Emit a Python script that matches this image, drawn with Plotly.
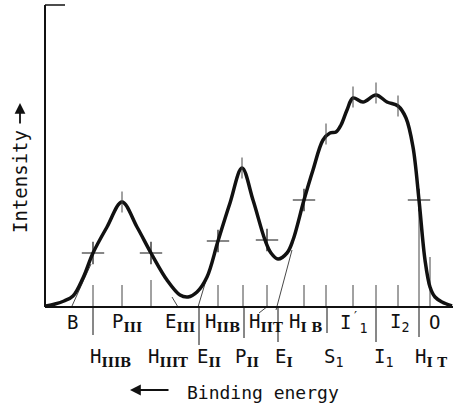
import plotly.graph_objects as go

# Spectrum profile (position along the energy axis, intensity)
curve_x = [1, 10, 19, 28, 38, 48, 62, 77, 92, 106, 122, 135, 143, 152, 162, 173, 185,
           197, 208, 220, 226, 233, 242, 248, 259, 268, 278, 285, 291, 296, 302, 308,
           318, 331, 342, 353, 361, 368, 374, 380, 385, 390, 397, 407]
curve_y = [1, 3, 6, 11, 29, 54, 80, 105, 80, 54, 27, 12, 10, 15, 30, 66, 104,
           139, 107, 67, 54, 48, 54, 67, 107, 137, 167, 174, 175, 182, 197, 209,
           205, 212, 205, 201, 189, 160, 107, 47, 20, 10, 5, 1]

# Half-height points marked with crosses
cross_x = [48, 106, 173, 222, 259, 374]
cross_y = [54, 54, 66, 67, 107, 107]

# Peak / shoulder markers
peak_x = [77, 197, 281, 308, 331, 353]
peak_y = [105, 139, 173, 210, 214, 201]

# Short ticks rising from the baseline (x, top)
tick_x = [48, 77, 106, 173, 198, 222, 259, 281, 308, 331, 353, 374, 385]
tick_top = [22, 22, 27, 22, 22, 22, 22, 22, 22, 22, 22, 107, 50]

# Separators hanging below the baseline (x, depth)
sep_x = [48, 154, 199, 233, 282, 331, 374]
sep_bottom = [-28, -38, -31, -35, -26, -35, -30]

# Tangent construction lines (x0, y0, x1, y1)
tangents = [(27, 1, 46, 43), (127, 10, 133, 0), (153, 0, 162, 30),
            (231, -3, 247, 57), (214, -6, 223, 1)]


def sub(s):
    """Roman-numeral style subscript in bold serif."""
    return ("<sub><span style='font-family:DejaVu Serif'><b>" + s + "</b></span></sub>")


def subs(s):
    return "<sub>" + s + "</sub>"


# Region labels
top_labels = ["B", "P" + sub("III"), "E" + sub("III"), "H" + sub("IIB"), "H" + sub("IIT"),
              "H" + sub("I B"), "I<sup>′</sup>" + subs("1"), "I" + subs("2"), "O"]
top_label_x = [20, 65, 118, 158, 202, 242, 293, 343, 382]
bottom_labels = ["H" + sub("IIIB"), "H" + sub("IIIT"), "E" + sub("II"), "P" + sub("II"),
                 "E" + sub("I"), "S" + subs("1"), "I" + subs("1"), "H" + sub("I T")]
bottom_label_x = [43, 101, 150, 188, 228, 277, 327, 368]

FONT = "DejaVu Sans Mono"
BLACK = "#111111"

fig = go.Figure()

# thin construction lines
tx, ty = [], []
for x0, y0, x1, y1 in tangents:
    tx += [x0, x1, None]
    ty += [y0, y1, None]
fig.add_trace(go.Scatter(x=tx, y=ty, mode="lines", line=dict(color="#333333", width=0.9),
                         hoverinfo="skip"))

# baseline ticks
bx, by = [], []
for x, top in zip(tick_x, tick_top):
    bx += [x, x, None]
    by += [0, top, None]
fig.add_trace(go.Scatter(x=bx, y=by, mode="lines", line=dict(color="#444444", width=1),
                         hoverinfo="skip"))

# separators below baseline
sx, sy = [], []
for x, bot in zip(sep_x, sep_bottom):
    sx += [x, x, None]
    sy += [0, bot, None]
fig.add_trace(go.Scatter(x=sx, y=sy, mode="lines", line=dict(color=BLACK, width=1),
                         hoverinfo="skip"))

# main spectrum
fig.add_trace(go.Scatter(x=curve_x, y=curve_y, mode="lines",
                         line=dict(color=BLACK, width=3.5, shape="spline", smoothing=1.0),
                         hoverinfo="skip"))

# crosses
fig.add_trace(go.Scatter(x=cross_x, y=cross_y, mode="markers",
                         marker=dict(symbol="cross-thin", size=16,
                                     line=dict(color=BLACK, width=1.2)),
                         hoverinfo="skip"))

# peak ticks
fig.add_trace(go.Scatter(x=peak_x, y=peak_y, mode="markers",
                         marker=dict(symbol="line-ns", size=15,
                                     line=dict(color="#444444", width=1)),
                         hoverinfo="skip"))

# axes drawn as lines
fig.add_shape(type="line", x0=0, x1=0, y0=0, y1=302, line=dict(color=BLACK, width=2))
fig.add_shape(type="line", x0=0, x1=408, y0=0, y1=0, line=dict(color=BLACK, width=2))
fig.add_shape(type="line", x0=0, x1=20, y0=302, y1=302, line=dict(color=BLACK, width=1.5))

for txt, x in zip(top_labels, top_label_x):
    fig.add_annotation(x=x, y=-15, text=txt, showarrow=False, xanchor="left",
                       yanchor="middle", font=dict(family=FONT, size=19, color=BLACK))
for txt, x in zip(bottom_labels, bottom_label_x):
    fig.add_annotation(x=x, y=-50, text=txt, showarrow=False, xanchor="left",
                       yanchor="middle", font=dict(family=FONT, size=19, color=BLACK))

# axis titles
fig.add_annotation(x=-25, y=125, text="Intensity", textangle=-90, showarrow=False,
                   font=dict(family=FONT, size=19, color=BLACK))
fig.add_annotation(x=-25, y=204, ax=0, ay=22, text="", showarrow=True, arrowhead=2,
                   arrowsize=1.2, arrowwidth=1.8, arrowcolor=BLACK)
fig.add_annotation(x=218, y=-85, text="Binding energy", showarrow=False,
                   font=dict(family=FONT, size=18, color=BLACK))
fig.add_annotation(x=85, y=-83, ax=40, ay=0, text="", showarrow=True, arrowhead=2,
                   arrowsize=1.2, arrowwidth=1.8, arrowcolor=BLACK)

fig.update_layout(
    width=453, height=406, margin=dict(l=0, r=0, t=0, b=0),
    paper_bgcolor="white", plot_bgcolor="white", showlegend=False,
    xaxis=dict(range=[-45, 408], visible=False, fixedrange=True),
    yaxis=dict(range=[-99, 307], visible=False, fixedrange=True),
)

fig.write_html("out.html")
